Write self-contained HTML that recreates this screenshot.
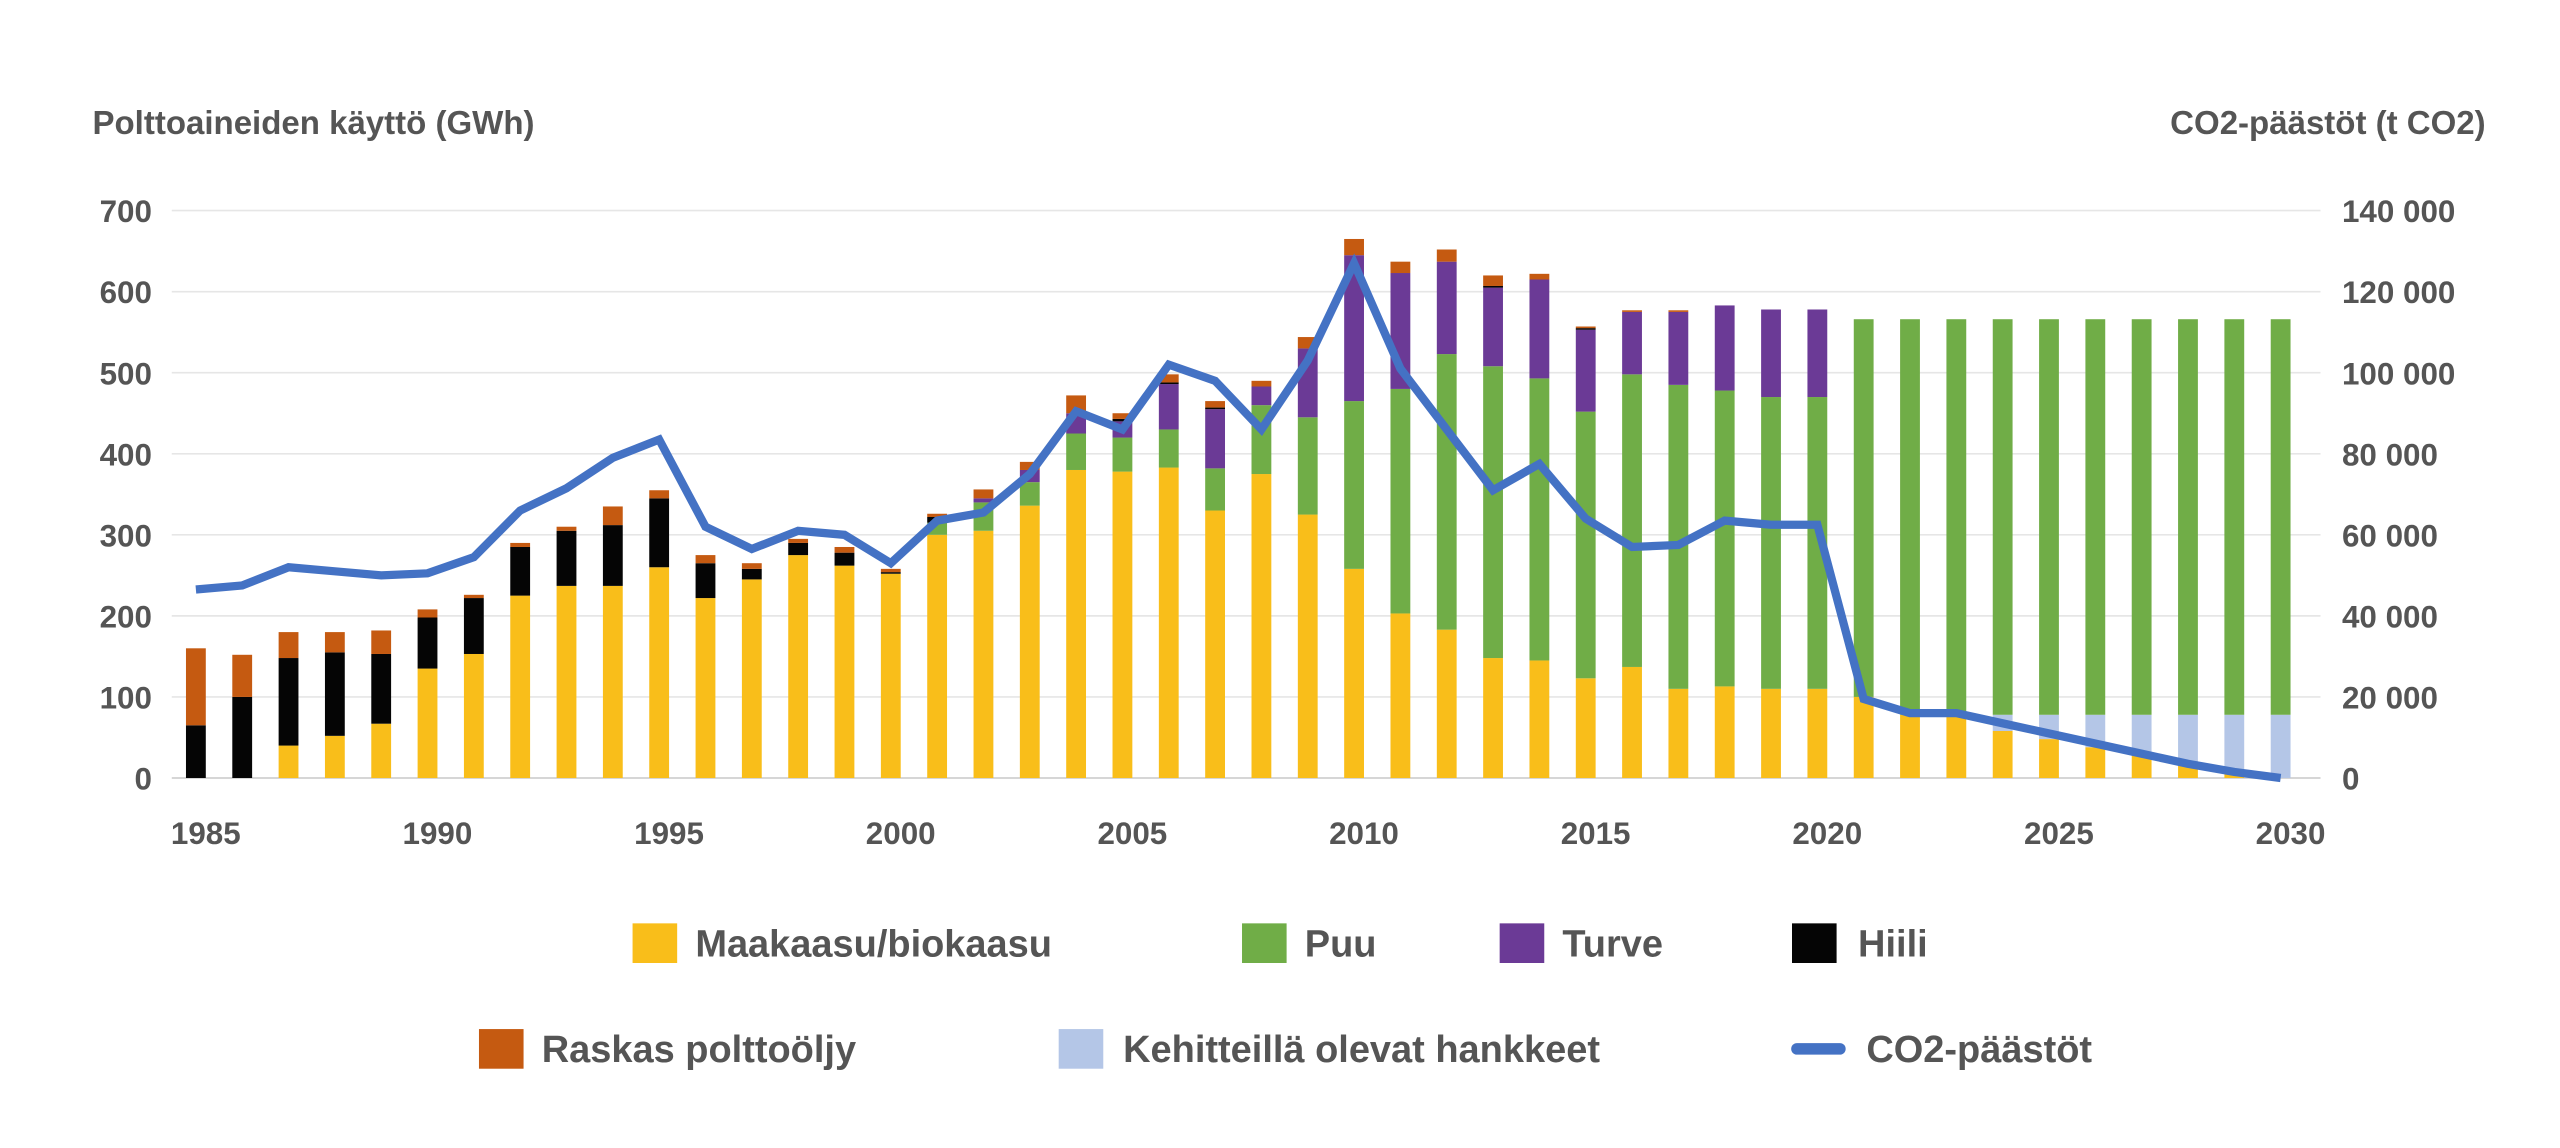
<!DOCTYPE html>
<html><head><meta charset="utf-8"><style>
html,body{margin:0;padding:0;background:#fff;}
svg{display:block;font-family:"Liberation Sans",sans-serif;font-weight:bold;}
</style></head><body>
<svg id="chart" width="2560" height="1148" viewBox="0 0 1550 695" preserveAspectRatio="none" xmlns="http://www.w3.org/2000/svg">
<text x="56" y="81" font-size="20" fill="#555">Polttoaineiden käyttö (GWh)</text>
<text x="1505" y="81" font-size="20" fill="#555" text-anchor="end">CO2-päästöt (t CO2)</text>
<g id="grid"></g>
<g id="bars"></g>
<g id="line"></g>
<g id="axes"></g>
<g font-size="23" fill="#555">
 <g><rect x="383" y="559" width="27" height="24" fill="#F9BE1A"/><text x="421" y="579">Maakaasu/biokaasu</text></g>
 <g><rect x="752" y="559" width="27" height="24" fill="#70AD47"/><text x="790" y="579">Puu</text></g>
 <g><rect x="908" y="559" width="27" height="24" fill="#6B3A96"/><text x="946" y="579">Turve</text></g>
 <g><rect x="1085" y="559" width="27" height="24" fill="#050505"/><text x="1125" y="579">Hiili</text></g>
 <g><rect x="290" y="623" width="27" height="24" fill="#C55A11"/><text x="328" y="643">Raskas polttoöljy</text></g>
 <g><rect x="641" y="623" width="27" height="24" fill="#B4C6E7"/><text x="680" y="643">Kehitteillä olevat hankkeet</text></g>
 <g><line x1="1088" y1="635" x2="1114" y2="635" stroke="#4472C4" stroke-width="7" stroke-linecap="round"/><text x="1130" y="643">CO2-päästöt</text></g>
</g>
</svg>
<script>
const years=[1985,1986,1987,1988,1989,1990,1991,1992,1993,1994,1995,1996,1997,1998,1999,2000,2001,2002,2003,2004,2005,2006,2007,2008,2009,2010,2011,2012,2013,2014,2015,2016,2017,2018,2019,2020,2021,2022,2023,2024,2025,2026,2027,2028,2029,2030];
const gas=[0,0,40,52,67,135,153,225,237,237,260,222,245,275,262,252,300,305,336,380,378,383,330,375,325,258,203,183,148,145,123,137,110,113,110,110,100,78,76,58,48,38,28,18,8,0];
const dev=[0,0,0,0,0,0,0,0,0,0,0,0,0,0,0,0,0,0,0,0,0,0,0,0,0,0,0,0,0,0,0,0,0,0,0,0,0,0,2,20,30,40,50,60,70,78];
const wood=[0,0,0,0,0,0,0,0,0,0,0,0,0,0,0,0,15,35,29,45,42,47,52,85,120,207,277,340,360,348,329,361,375,365,360,360,466,488,488,488,488,488,488,488,488,488];
const peat=[0,0,0,0,0,0,0,0,0,0,0,0,0,0,0,0,0,5,15,25,20,56,73,23,85,180,143,114,97,122,101,77,90,105,108,108,0,0,0,0,0,0,0,0,0,0];
const coal=[65,100,108,103,86,63,69,60,68,75,85,43,13,15,16,2,7,0,0,0,3,2,2,0,0,0,0,0,2,0,2,0,0,0,0,0,0,0,0,0,0,0,0,0,0,0];
const oil=[95,52,32,25,29,10,4,5,5,23,10,10,7,5,7,4,4,11,10,22,7,10,8,7,14,20,14,15,13,7,2,2,2,0,0,0,0,0,0,0,0,0,0,0,0,0];
const co2=[46500,47500,52000,51000,50000,50500,54500,66000,71500,79000,83500,62000,56500,61000,60000,53000,63500,65500,75000,90500,86000,102000,98000,86000,103000,127000,101000,86000,71000,77500,64000,57000,57500,63500,62500,62500,19500,16000,16000,13500,11000,8500,6000,3500,1500,0];
const leftTicks=["0","100","200","300","400","500","600","700"];
const rightTicks=["0","20 000","40 000","60 000","80 000","100 000","120 000","140 000"];
const xTicks=["1985","1990","1995","2000","2005","2010","2015","2020","2025","2030"];

const NS="http://www.w3.org/2000/svg";
const y0=471, yTop=127.5;
const yL=v=>y0-(v/700)*(y0-yTop);
const yR=v=>y0-(v/140000)*(y0-yTop);
const x=yr=>118.6+(yr-1985)*28.05;
const bw=12;
function mk(tag,attrs,parent){const e=document.createElementNS(NS,tag);for(const k in attrs)e.setAttribute(k,attrs[k]);parent.appendChild(e);return e;}
const grid=document.getElementById('grid'),bars=document.getElementById('bars'),lineG=document.getElementById('line'),axes=document.getElementById('axes');
leftTicks.forEach((t,i)=>{
  const v=+t;
  const g=mk('line',{x1:104,x2:1405,y1:yL(v),y2:yL(v),stroke:i===0?'#d0d0d0':'#e6e6e6','stroke-width':1},grid);
  
  
  const tl=mk('text',{x:92,y:yL(v)+7,'font-size':19,fill:'#555','text-anchor':'end'},axes);
  tl.textContent=t;
  
  
});
rightTicks.forEach(t=>{
  const v=+t.replace(/\s/g,'');
  const tr=mk('text',{x:1418,y:yR(v)+7,'font-size':19,fill:'#555'},axes);
  tr.textContent=t;
  
  
});
xTicks.forEach(t=>{
  const tx=mk('text',{x:x(+t)+6,y:511,'font-size':19,fill:'#555','text-anchor':'middle'},axes);
  tx.textContent=t;
  
  
});
const series=[[gas,'#F9BE1A','gas'],[dev,'#B4C6E7','development'],[wood,'#70AD47','wood'],[peat,'#6B3A96','peat'],[coal,'#050505','coal'],[oil,'#C55A11','oil']];
years.forEach((yr,i)=>{
  let cum=0;
  series.forEach(([arr,col,nm])=>{
    const v=arr[i]; if(!v) return;
    const r=mk('rect',{x:x(yr)-bw/2,y:yL(cum+v),width:bw,height:yL(cum)-yL(cum+v),fill:col},bars);
    
    
    cum+=v;
  });
});
const pts=years.map((yr,i)=>x(yr)+','+yR(co2[i])).join(' ');
const pl=mk('polyline',{points:pts,fill:'none',stroke:'#4472C4','stroke-width':5,'stroke-linejoin':'miter'},lineG);


</script>
</body></html>
